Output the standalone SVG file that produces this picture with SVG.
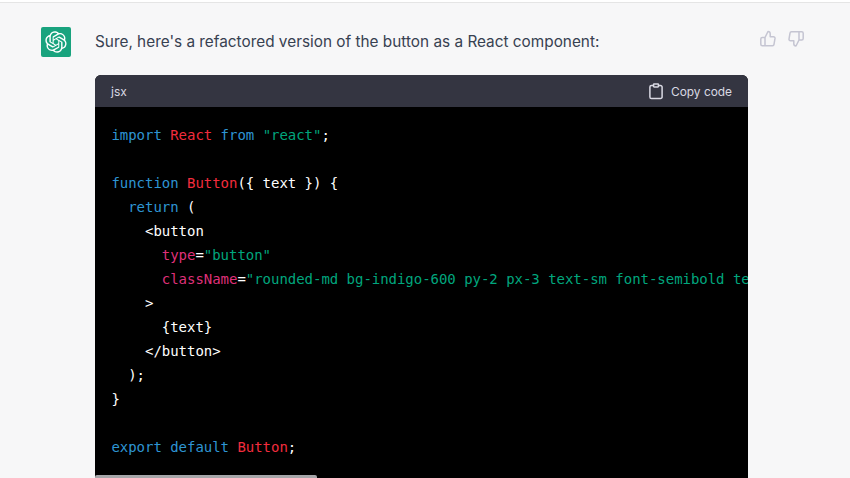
<svg xmlns="http://www.w3.org/2000/svg" width="850" height="478" viewBox="0 0 850 478">
<style>
.ui{font-family:Inter,"Liberation Sans",sans-serif}
.code{font-family:"DejaVu Sans Mono","Liberation Mono",monospace;font-size:14px;fill:#fff;white-space:pre;letter-spacing:-.03px}
.k{fill:#2e95d3}.t{fill:#f22c3d}.s{fill:#00a67d}.a{fill:#df3079}
.ic{fill:none;stroke-width:1.5;stroke-linecap:round;stroke-linejoin:round}
</style>
<defs><clipPath id="cb"><rect x="95" y="107" width="653" height="371"/></clipPath></defs>
<rect width="850" height="478" fill="#f7f7f8"/>
<rect width="850" height="2" fill="#fff"/>
<rect y="2" width="850" height="1" fill="#e5e5e5"/>
<g id="logo">
<rect x="41" y="27" width="30" height="30" rx="2" fill="#19a37e"/>
<path transform="translate(45 31) scale(.537)" fill="#fff" fill-rule="evenodd" d="M37.5324 16.8707C37.9808 15.5241 38.1363 14.0974 37.9886 12.6859C37.8409 11.2744 37.3934 9.91076 36.676 8.68622C35.6126 6.83404 33.9882 5.3676 32.0373 4.4985C30.0864 3.62941 27.9098 3.40259 25.8215 3.85078C24.8796 2.7893 23.7219 1.94125 22.4257 1.36341C21.1295 0.785575 19.7249 0.491269 18.3058 0.500197C16.1708 0.495044 14.0893 1.16803 12.3614 2.42214C10.6335 3.67624 9.34853 5.44666 8.6917 7.47815C7.30085 7.76286 5.98686 8.3414 4.8377 9.17505C3.68854 10.0087 2.73073 11.0782 2.02839 12.312C0.956464 14.1591 0.498905 16.2988 0.721698 18.4228C0.944492 20.5467 1.83612 22.5449 3.268 24.1293C2.81966 25.4759 2.66413 26.9026 2.81182 28.3141C2.95951 29.7256 3.40701 31.0892 4.12437 32.3138C5.18791 34.1659 6.8123 35.6322 8.76321 36.5013C10.7141 37.3704 12.8907 37.5973 14.9789 37.1492C15.9208 38.2107 17.0786 39.0587 18.3747 39.6366C19.6709 40.2144 21.0755 40.5087 22.4946 40.4998C24.6307 40.5054 26.7133 39.8321 28.4418 38.5772C30.1704 37.3223 31.4556 35.5506 32.1119 33.5179C33.5027 33.2332 34.8167 32.6547 35.9659 31.821C37.115 30.9874 38.0728 29.9178 38.7752 28.684C39.8458 26.8371 40.3023 24.6979 40.0789 22.5748C39.8556 20.4517 38.9639 18.4544 37.5324 16.8707ZM22.4978 37.8849C20.7443 37.8874 19.0459 37.2733 17.6994 36.1501C17.7601 36.117 17.8666 36.0586 17.936 36.0161L25.9004 31.4156C26.1003 31.3019 26.2663 31.137 26.3813 30.9378C26.4964 30.7386 26.5563 30.5124 26.5549 30.2825V19.0542L29.9213 20.998C29.9389 21.0068 29.9541 21.0198 29.9656 21.0359C29.977 21.052 29.9842 21.0707 29.9867 21.0902V30.3889C29.9842 32.375 29.1946 34.2791 27.7909 35.6841C26.3872 37.0892 24.4838 37.8806 22.4978 37.8849ZM6.39227 31.0064C5.51397 29.4888 5.19742 27.7107 5.49804 25.9832C5.55718 26.0187 5.66048 26.0818 5.73461 26.1244L13.699 30.7248C13.8975 30.8408 14.1233 30.902 14.3532 30.902C14.583 30.902 14.8088 30.8408 15.0073 30.7248L24.731 25.1103V28.9979C24.7321 29.0177 24.7283 29.0376 24.7199 29.0556C24.7115 29.0736 24.6988 29.0893 24.6829 29.1012L16.6317 33.7497C14.9096 34.7416 12.8643 35.0097 10.9447 34.4954C9.02506 33.9811 7.38785 32.7263 6.39227 31.0064ZM4.29707 13.6194C5.17156 12.0998 6.55279 10.9364 8.19885 10.3327C8.19885 10.4013 8.19491 10.5228 8.19491 10.6071V19.808C8.19351 20.0378 8.25334 20.2638 8.36823 20.4629C8.48312 20.6619 8.64893 20.8267 8.84863 20.9404L18.5723 26.5542L15.206 28.4979C15.1894 28.5089 15.1703 28.5155 15.1505 28.5173C15.1307 28.5191 15.1107 28.516 15.0924 28.5082L7.04046 23.8557C5.32135 22.8601 4.06716 21.2235 3.55289 19.3046C3.03862 17.3858 3.30624 15.3413 4.29707 13.6194ZM31.955 20.0556L22.2312 14.4411L25.5976 12.4981C25.6142 12.4872 25.6333 12.4805 25.6531 12.4787C25.6729 12.4769 25.6928 12.4801 25.7111 12.4879L33.7631 17.1364C34.9967 17.849 36.0017 18.8982 36.6606 20.1613C37.3194 21.4244 37.6047 22.849 37.4832 24.2684C37.3617 25.6878 36.8382 27.0432 35.9743 28.1759C35.1103 29.3086 33.9415 30.1717 32.6047 30.6641C32.6047 30.5947 32.6047 30.4733 32.6047 30.3889V21.188C32.6066 20.9586 32.5474 20.7328 32.4332 20.5338C32.319 20.3348 32.154 20.1698 31.955 20.0556ZM35.3055 15.0128C35.2464 14.9765 35.1431 14.9142 35.069 14.8717L27.1045 10.2712C26.906 10.1554 26.6803 10.0943 26.4504 10.0943C26.2206 10.0943 25.9948 10.1554 25.7963 10.2712L16.0726 15.8858V11.9982C16.0715 11.9783 16.0753 11.9585 16.0837 11.9405C16.0921 11.9225 16.1048 11.9068 16.1207 11.8949L24.1719 7.25025C25.4053 6.53903 26.8121 6.19376 28.2334 6.25482C29.6546 6.31589 31.0296 6.78077 32.1979 7.5954C33.3662 8.41003 34.2825 9.54101 34.8382 10.8562C35.3939 12.1714 35.5664 13.6172 35.3055 15.0128ZM14.2424 21.9419L10.8752 19.9981C10.8576 19.9893 10.8423 19.9763 10.8309 19.9602C10.8195 19.9441 10.8122 19.9254 10.8098 19.9058V10.6071C10.8107 9.18295 11.2173 7.78848 11.9819 6.58696C12.7466 5.38544 13.8377 4.42659 15.1275 3.82264C16.4173 3.21869 17.8524 2.99464 19.2649 3.1767C20.6775 3.35876 22.0089 3.93941 23.1034 4.85067C23.0427 4.88379 22.937 4.94215 22.8668 4.98473L14.9024 9.58517C14.7025 9.69878 14.5366 9.86356 14.4215 10.0626C14.3065 10.2616 14.2466 10.4877 14.2479 10.7175L14.2424 21.9419ZM16.071 17.9991L20.4018 15.4978L24.7325 17.9975V22.9985L20.4018 25.4983L16.071 22.9985V17.9991Z"/>
</g>
<text id="message" class="ui" x="95" y="47" font-size="15.35" fill="#374151">Sure, here's a refactored version of the button as a React component:</text>
<g id="thumbs" class="ic" stroke="#c5c5d2">
<path d="M765 37.500l3-6a2.200 2.200 0 0 1 2.200 2.200v3h3.300a1.500 1.500 0 0 1 1.500 1.700l-1 6a1.500 1.500 0 0 1-1.500 1.300h-7.500zM765 45.700h-2.700a1.500 1.500 0 0 1-1.500-1.500V39a1.500 1.500 0 0 1 1.500-1.500h2.700"/>
<path d="M799 40l-3 6a2.200 2.200 0 0 1-2.200-2.200v-3h-3.300a1.500 1.500 0 0 1-1.500-1.700l1-6a1.500 1.500 0 0 1 1.500-1.300h7.500zM799 31.800h2.700a1.500 1.500 0 0 1 1.500 1.500V38.500a1.500 1.500 0 0 1-1.500 1.500h-2.700"/>
</g>
<g id="code-block">
<path d="M95 478V81a6 6 0 0 1 6-6h641a6 6 0 0 1 6 6v397z" fill="#000"/>
<path d="M95 107V81a6 6 0 0 1 6-6h641a6 6 0 0 1 6 6v26z" fill="#343541"/>
<text class="ui" x="111" y="95.500" font-size="12" fill="#d9d9e3">jsx</text>
<g class="ic" stroke="#d9d9e3" stroke-width="1.300">
<path d="M653.500 85.500h-2a1.600 1.600 0 0 0-1.600 1.600v9.800a1.600 1.600 0 0 0 1.600 1.600h9a1.600 1.600 0 0 0 1.600-1.600v-9.800a1.600 1.600 0 0 0-1.600-1.600h-2"/>
<rect x="653.500" y="84" width="5" height="3" rx=".7"/>
</g>
<text class="ui" x="671" y="95.500" font-size="11.900" fill="#d9d9e3">Copy code</text>
<g clip-path="url(#cb)">
<text class="code" x="111.400" y="140"><tspan class="k">import</tspan> <tspan class="t">React</tspan> <tspan class="k">from</tspan> <tspan class="s">"react"</tspan>;</text>
<text class="code" x="111.400" y="188"><tspan class="k">function</tspan> <tspan class="t">Button</tspan>({ text }) {</text>
<text class="code" x="111.400" y="212">  <tspan class="k">return</tspan> (</text>
<text class="code" x="111.400" y="236">    &lt;button</text>
<text class="code" x="111.400" y="260">      <tspan class="a">type</tspan>=<tspan class="s">"button"</tspan></text>
<text class="code" x="111.400" y="284">      <tspan class="a">className</tspan>=<tspan class="s">"rounded-md bg-indigo-600 py-2 px-3 text-sm font-semibold text-white"</tspan></text>
<text class="code" x="111.400" y="308">    &gt;</text>
<text class="code" x="111.400" y="332">      {text}</text>
<text class="code" x="111.400" y="356">    &lt;/button&gt;</text>
<text class="code" x="111.400" y="380">  );</text>
<text class="code" x="111.400" y="404">}</text>
<text class="code" x="111.400" y="452"><tspan class="k">export</tspan> <tspan class="k">default</tspan> <tspan class="t">Button</tspan>;</text>
</g>
<path d="M95 478v-1a2 2 0 0 1 2-2h218a2 2 0 0 1 2 2v1z" fill="#a6a6a9"/>
</g>
</svg>
